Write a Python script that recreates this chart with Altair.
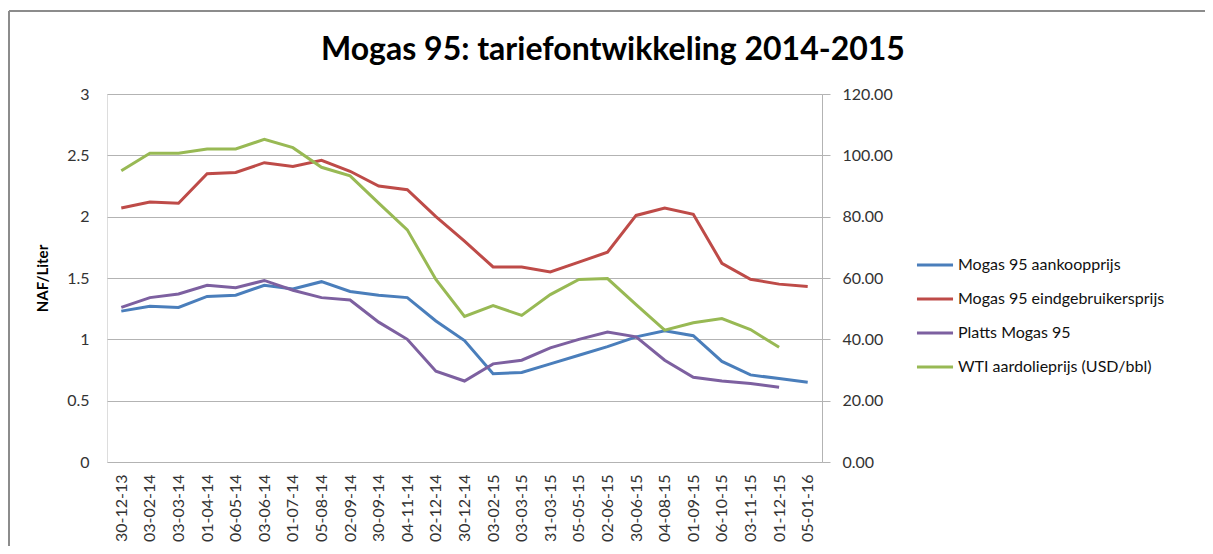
import altair as alt
import pandas as pd

dates = ["30-12-13", "03-02-14", "03-03-14", "01-04-14", "06-05-14", "03-06-14",
         "01-07-14", "05-08-14", "02-09-14", "30-09-14", "04-11-14", "02-12-14",
         "30-12-14", "03-02-15", "03-03-15", "31-03-15", "05-05-15", "02-06-15",
         "30-06-15", "04-08-15", "01-09-15", "06-10-15", "03-11-15", "01-12-15",
         "05-01-16"]

aankoop = [1.23, 1.27, 1.26, 1.35, 1.36, 1.44, 1.41, 1.47, 1.39, 1.36, 1.34, 1.15,
           0.99, 0.72, 0.73, 0.80, 0.87, 0.94, 1.02, 1.07, 1.03, 0.82, 0.71, 0.68, 0.65]
eindgebruiker = [2.07, 2.12, 2.11, 2.35, 2.36, 2.44, 2.41, 2.46, 2.37, 2.25, 2.22, 2.00,
                 1.80, 1.59, 1.59, 1.55, 1.63, 1.71, 2.01, 2.07, 2.02, 1.62, 1.49, 1.45, 1.43]
platts = [1.26, 1.34, 1.37, 1.44, 1.42, 1.48, 1.40, 1.34, 1.32, 1.14, 1.00, 0.74,
          0.66, 0.80, 0.83, 0.93, 1.00, 1.06, 1.02, 0.83, 0.69, 0.66, 0.64, 0.61, None]
wti = [95.0, 100.7, 100.7, 102.1, 102.1, 105.2, 102.5, 96.1, 93.3, 84.4, 75.7, 59.5,
       47.5, 51.0, 47.8, 54.6, 59.5, 59.8, 51.3, 43.0, 45.4, 46.8, 43.2, 37.4, None]

series_names = ["Mogas 95 aankoopprijs", "Mogas 95 eindgebruikersprijs",
                "Platts Mogas 95", "WTI aardolieprijs (USD/bbl)"]
series_colors = ["#4a7ebb", "#be4b48", "#7d60a0", "#98b954"]

left_ticks = [0, 0.5, 1, 1.5, 2, 2.5, 3]
right_ticks = [0, 20, 40, 60, 80, 100, 120]

title_text = "Mogas 95: tariefontwikkeling 2014-2015"

rows = []
for name, vals in zip(series_names, [aankoop, eindgebruiker, platts, wti]):
    for d, v in zip(dates, vals):
        if v is not None:
            rows.append({"datum": d, "reeks": name, "waarde": v})
df = pd.DataFrame(rows)

W, H = 715, 368
FONT = "Lato"
LBL = "#333333"
GRID = "#b3b3b3"

xenc = alt.X(
    "datum:N", sort=dates,
    scale=alt.Scale(type="point", padding=0.5),
    axis=alt.Axis(title=None, labelAngle=-90, ticks=False, labelPadding=12,
                  domain=False, grid=False, labelFont=FONT, labelFontSize=16,
                  labelColor=LBL, labelBaseline="middle"),
)

color = alt.Color(
    "reeks:N",
    scale=alt.Scale(domain=series_names, range=series_colors),
    legend=alt.Legend(
        title=None, orient="none", legendX=808, legendY=151,
        symbolType="stroke", symbolSize=1300, symbolStrokeWidth=3,
        labelFont=FONT, labelFontSize=16, labelColor="#111111",
        labelOffset=3, rowPadding=6, labelLimit=400,
    ),
)

left = alt.Chart(df).transform_filter(
    alt.FieldOneOfPredicate(field="reeks", oneOf=series_names[:3])
).mark_line(strokeWidth=3).encode(
    x=xenc,
    y=alt.Y("waarde:Q",
            scale=alt.Scale(domain=[0, 3], nice=False, zero=True),
            axis=alt.Axis(title="NAF/Liter", values=left_ticks, format=".1~f",
                          ticks=False, domain=False, grid=True, gridColor=GRID,
                          gridWidth=1, labelPadding=18, labelFont=FONT,
                          labelFontSize=16, labelColor=LBL, titleFont=FONT,
                          titleFontSize=15, titleFontWeight="bold",
                          titleColor="#000000", titlePadding=16)),
    color=color,
)

right = alt.Chart(df).transform_filter(
    alt.FieldEqualPredicate(field="reeks", equal=series_names[3])
).mark_line(strokeWidth=3).encode(
    x=xenc,
    y=alt.Y("waarde:Q",
            scale=alt.Scale(domain=[0, 120], nice=False, zero=True),
            axis=alt.Axis(title=None, orient="right", values=right_ticks,
                          format=".2f", ticks=True, tickSize=8, tickColor=GRID,
                          domain=True, domainColor=GRID, grid=False,
                          labelPadding=12, labelFont=FONT, labelFontSize=16,
                          labelColor=LBL)),
    color=color,
)

frame_v = alt.Chart().mark_rule(color="#8c8c8c", strokeWidth=2).encode(
    x=alt.value(-98), y=alt.value(-83), y2=alt.value(H + 120))
frame_h = alt.Chart().mark_rule(color="#8c8c8c", strokeWidth=2).encode(
    x=alt.value(-98), x2=alt.value(1213), y=alt.value(-83))

title = alt.Chart().mark_text(
    text=title_text, font=FONT, fontSize=32, fontWeight="bold", color="#000000",
    align="center", baseline="alphabetic",
).encode(x=alt.value(506), y=alt.value(-34))

chart = alt.layer(left, right, frame_v, frame_h, title).resolve_scale(
    y="independent"
).properties(
    width=W, height=H,
    autosize=alt.AutoSizeParams(type="none"),
    padding={"left": 99, "top": 86, "right": 383, "bottom": 84},
).configure_view(stroke=GRID, strokeWidth=1).configure(background="white")

chart.save("out.html", embed_options={"renderer": "svg", "actions": False})
